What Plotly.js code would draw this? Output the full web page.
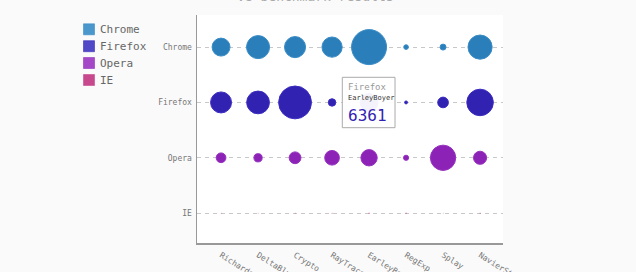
<!DOCTYPE html>
<html>
<head>
<meta charset="utf-8">
<script src="https://cdn.plot.ly/plotly-3.0.1.min.js"></script>
<style>html,body{margin:0;padding:0;background:#fafafa;}#chart{width:636px;height:272px;}</style>
</head>
<body>
<div id="chart"></div>
<script>
var chartTitle = 'V8 benchmark results';
var benchmarks = ['Richards', 'DeltaBlue', 'Crypto', 'RayTrace', 'EarleyBoyer', 'RegExp', 'Splay', 'NavierStokes'];
var browsers = ['Chrome', 'Firefox', 'Opera', 'IE'];
var chromeValues = [6395, 8212, 7520, 7218, 12464, 1660, 2123, 8607];
var firefoxValues = [7473, 8099, 11700, 2651, 6361, 1044, 3797, 9450];
var operaValues = [3472, 2933, 4203, 5229, 5810, 1828, 9013, 4669];
var ieValues = [43, 41, 59, 79, 144, 136, 34, 102];
var seriesValues = [chromeValues, firefoxValues, operaValues, ieValues];
var dotColors = ['#2a7fba', '#3222b2', '#8c23b6', '#c2358a'];
var dotEdges = ['#3a8cc6', '#3a2cc0', '#9630c0', '#c8448f'];
var legendColors = ['#4a97cb', '#5048c6', '#a548c8', '#c8488e'];
var tooltipSeries = 'Firefox';
var tooltipCategory = 'EarleyBoyer';
var tooltipValue = 6361;

var maxVal = Math.max.apply(null, [].concat.apply([], seriesValues));
var mono = 'DejaVu Sans Mono, monospace';

var traces = browsers.map(function (b, i) {
  return {
    type: 'scatter', mode: 'markers',
    x: benchmarks, y: benchmarks.map(function () { return b; }),
    marker: {
      size: seriesValues[i], sizemode: 'diameter', sizeref: maxVal / 35, sizemin: 0,
      opacity: 1,
      color: dotColors[i], line: {color: dotEdges[i], width: 1}
    },
    showlegend: false, hoverinfo: 'none', name: b
  };
});

// pixel helpers for the plot area (197..503 x, 15..243 y)
var L = 197, R = 503, T = 15, B = 243;
function px(x) { return (x - L) / (R - L); }
function py(y) { return (B - y) / (B - T); }

var shapes = [];
var annotations = [];
var legendY = [29.3, 46.2, 63, 80];
browsers.forEach(function (b, i) {
  shapes.push({type: 'rect', xref: 'paper', yref: 'paper',
    x0: px(83.5), x1: px(94.5), y0: py(legendY[i] + 5.5), y1: py(legendY[i] - 5.5),
    fillcolor: legendColors[i], line: {color: dotEdges[i], width: 0.6}});
  annotations.push({xref: 'paper', yref: 'paper', x: px(97.5), y: py(legendY[i]),
    xanchor: 'left', yanchor: 'middle', text: b, showarrow: false,
    font: {family: mono, size: 11, color: '#666'}});
});

// title (mostly cut off at the top)
annotations.push({xref: 'paper', yref: 'paper', x: px(315), y: py(-3.8), xanchor: 'center', yanchor: 'middle',
  text: chartTitle, showarrow: false, font: {family: mono, size: 13, color: '#aaa'}});

// tooltip box
shapes.push({type: 'rect', xref: 'paper', yref: 'paper', x0: px(342.3), x1: px(395), y0: py(127.7), y1: py(77.3),
  fillcolor: 'rgba(255,255,255,0.95)', line: {color: '#aaa', width: 1}});
annotations.push({xref: 'paper', yref: 'paper', x: px(346), y: py(86.5), xanchor: 'left', yanchor: 'middle',
  text: tooltipSeries, showarrow: false, font: {family: mono, size: 9, color: '#999'}});
annotations.push({xref: 'paper', yref: 'paper', x: px(346), y: py(98), xanchor: 'left', yanchor: 'middle',
  text: tooltipCategory, showarrow: false, font: {family: mono, size: 7, color: '#333'}});
annotations.push({xref: 'paper', yref: 'paper', x: px(345.5), y: py(115), xanchor: 'left', yanchor: 'middle',
  text: String(tooltipValue), showarrow: false, font: {family: mono, size: 16, color: dotColors[1]}});

var layout = {
  width: 636, height: 272,
  margin: {l: L, r: 636 - R, t: T, b: 272 - B, pad: 0},
  paper_bgcolor: '#fafafa', plot_bgcolor: '#ffffff',
  showlegend: false,
  xaxis: {type: 'category', categoryorder: 'array', categoryarray: benchmarks,
    range: [-0.65, 7.62], showgrid: false, zeroline: false, showline: true,
    linecolor: '#999', linewidth: 1.5, tickangle: 32, ticks: '', ticklabelstandoff: 3,
    tickfont: {family: mono, size: 8, color: '#777'}, fixedrange: true},
  yaxis: {type: 'category', categoryorder: 'array', categoryarray: browsers.slice().reverse(),
    range: [-0.54, 3.58], showgrid: true, gridcolor: '#c8c8c8', gridwidth: 1, griddash: '4px,4px',
    zeroline: false, showline: true, linecolor: '#999', linewidth: 1.5, ticks: '',
    ticklabelstandoff: 2,
    tickfont: {family: mono, size: 8, color: '#777'}, fixedrange: true},
  shapes: shapes,
  annotations: annotations
};

Plotly.newPlot('chart', traces, layout, {displayModeBar: false, staticPlot: true});
</script>
</body>
</html>
